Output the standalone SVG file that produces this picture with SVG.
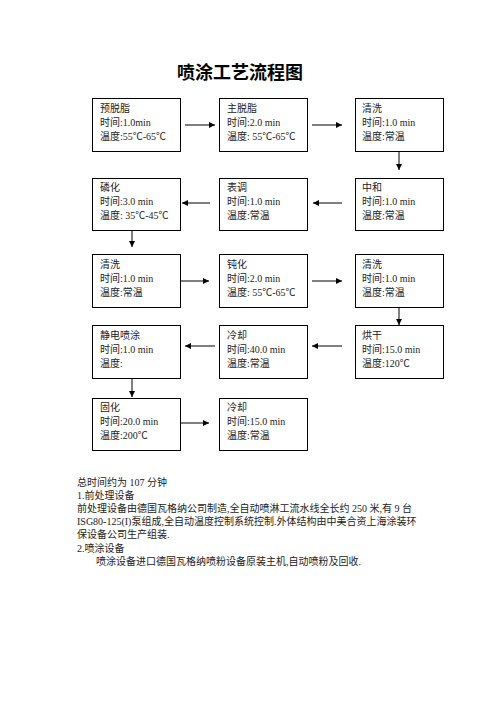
<svg xmlns="http://www.w3.org/2000/svg" width="496" height="702" viewBox="0 0 496 702">
<defs>
<style>
.box{fill:#fff;stroke:#000;stroke-width:1}
.t{font-family:"Liberation Serif","Noto Sans CJK SC",serif;font-size:10px;fill:#222}
.title{font-family:"Noto Sans CJK SC","Liberation Sans",sans-serif;font-size:18px;font-weight:bold;fill:#000}
.c{stroke:#555;stroke-width:1.5;fill:none;marker-end:url(#ah)}
</style>
<marker id="ah" markerUnits="userSpaceOnUse" markerWidth="7" markerHeight="6" refX="6" refY="3" orient="auto">
<path d="M0,0 L6,3 L0,6 z" fill="#000"/>
</marker>
</defs>
<rect width="496" height="702" fill="#fff"/>
<text class="title" x="240" y="79" text-anchor="middle">喷涂工艺流程图</text>

<g id="n1"><rect class="box" x="92.5" y="98.5" width="88" height="53"/>
<text class="t" x="100" y="112"><tspan x="100">预脱脂</tspan><tspan x="100" dy="14">时间:1.0min</tspan><tspan x="100" dy="14">温度:55℃-65℃</tspan></text></g>
<g id="n2"><rect class="box" x="219.5" y="98.5" width="88" height="53"/>
<text class="t" x="227" y="112"><tspan x="227">主脱脂</tspan><tspan x="227" dy="14">时间:2.0 min</tspan><tspan x="227" dy="14">温度: 55℃-65℃</tspan></text></g>
<g id="n3"><rect class="box" x="355.5" y="98.5" width="88" height="53"/>
<text class="t" x="362" y="112"><tspan x="362">清洗</tspan><tspan x="362" dy="14">时间:1.0 min</tspan><tspan x="362" dy="14">温度:常温</tspan></text></g>

<g id="n4"><rect class="box" x="92.5" y="178.5" width="88" height="52"/>
<text class="t" x="100" y="191"><tspan x="100">磷化</tspan><tspan x="100" dy="14">时间:3.0 min</tspan><tspan x="100" dy="14">温度: 35℃-45℃</tspan></text></g>
<g id="n5"><rect class="box" x="219.5" y="178.5" width="88" height="52"/>
<text class="t" x="227" y="191"><tspan x="227">表调</tspan><tspan x="227" dy="14">时间:1.0 min</tspan><tspan x="227" dy="14">温度:常温</tspan></text></g>
<g id="n6"><rect class="box" x="355.5" y="178.5" width="88" height="52"/>
<text class="t" x="362" y="191"><tspan x="362">中和</tspan><tspan x="362" dy="14">时间:1.0 min</tspan><tspan x="362" dy="14">温度:常温</tspan></text></g>

<g id="n7"><rect class="box" x="92.5" y="254.5" width="88" height="53"/>
<text class="t" x="100" y="268"><tspan x="100">清洗</tspan><tspan x="100" dy="14">时间:1.0 min</tspan><tspan x="100" dy="14">温度:常温</tspan></text></g>
<g id="n8"><rect class="box" x="219.5" y="254.5" width="88" height="53"/>
<text class="t" x="227" y="268"><tspan x="227">钝化</tspan><tspan x="227" dy="14">时间:2.0 min</tspan><tspan x="227" dy="14">温度: 55℃-65℃</tspan></text></g>
<g id="n9"><rect class="box" x="355.5" y="254.5" width="88" height="53"/>
<text class="t" x="362" y="268"><tspan x="362">清洗</tspan><tspan x="362" dy="14">时间:1.0 min</tspan><tspan x="362" dy="14">温度:常温</tspan></text></g>

<g id="n10"><rect class="box" x="92.5" y="325.5" width="88" height="53"/>
<text class="t" x="100" y="339"><tspan x="100">静电喷涂</tspan><tspan x="100" dy="14">时间:1.0 min</tspan><tspan x="100" dy="14">温度:</tspan></text></g>
<g id="n11"><rect class="box" x="219.5" y="325.5" width="88" height="53"/>
<text class="t" x="227" y="339"><tspan x="227">冷却</tspan><tspan x="227" dy="14">时间:40.0 min</tspan><tspan x="227" dy="14">温度:常温</tspan></text></g>
<g id="n12"><rect class="box" x="355.5" y="325.5" width="88" height="53"/>
<text class="t" x="362" y="339"><tspan x="362">烘干</tspan><tspan x="362" dy="14">时间:15.0 min</tspan><tspan x="362" dy="14">温度:120℃</tspan></text></g>

<g id="n13"><rect class="box" x="92.5" y="398.5" width="88" height="52"/>
<text class="t" x="100" y="411"><tspan x="100">固化</tspan><tspan x="100" dy="14">时间:20.0 min</tspan><tspan x="100" dy="14">温度:200℃</tspan></text></g>
<g id="n14"><rect class="box" x="219.5" y="398.5" width="88" height="52"/>
<text class="t" x="227" y="411"><tspan x="227">冷却</tspan><tspan x="227" dy="14">时间:15.0 min</tspan><tspan x="227" dy="14">温度:常温</tspan></text></g>

<g id="connectors">
<line class="c" x1="185" y1="125" x2="215" y2="125"/>
<line class="c" x1="312" y1="125" x2="342" y2="125"/>
<line class="c" x1="399" y1="152" x2="399" y2="170"/>
<line class="c" x1="342" y1="203" x2="313" y2="203"/>
<line class="c" x1="210" y1="203" x2="182" y2="203"/>
<line class="c" x1="132" y1="231" x2="132" y2="247"/>
<line class="c" x1="181" y1="281" x2="209" y2="281"/>
<line class="c" x1="312" y1="281" x2="342" y2="281"/>
<line class="c" x1="399" y1="308" x2="399" y2="325"/>
<line class="c" x1="342" y1="346" x2="312" y2="346"/>
<line class="c" x1="215" y1="346" x2="185" y2="346"/>
<line class="c" x1="132" y1="379" x2="132" y2="397"/>
<line class="c" x1="181" y1="423" x2="209" y2="423"/>
</g>

<g id="notes" class="t">
<text class="t" x="77" y="486">总时间约为 107 分钟</text>
<text class="t" x="77" y="499">1.前处理设备</text>
<text class="t" x="77" y="512">前处理设备由德国瓦格纳公司制造,全自动喷淋工流水线全长约 250 米,有 9 台</text>
<text class="t" x="77" y="525">ISG80-125(I)泵组成,全自动温度控制系统控制.外体结构由中美合资上海涂装环</text>
<text class="t" x="77" y="538">保设备公司生产组装.</text>
<text class="t" x="77" y="551.5">2.喷涂设备</text>
<text class="t" x="96" y="564.5">喷涂设备进口德国瓦格纳喷粉设备原装主机,自动喷粉及回收.</text>
</g>
</svg>
